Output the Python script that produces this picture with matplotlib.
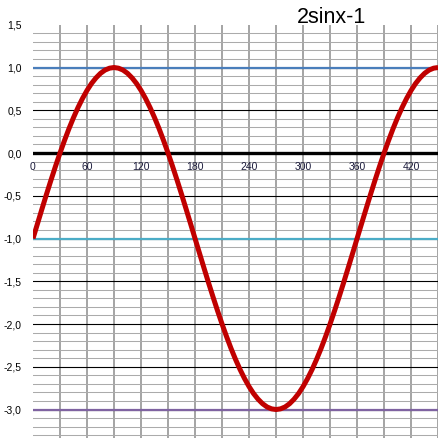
import matplotlib
matplotlib.use("Agg")
import matplotlib.pyplot as plt

# значения (шаг 5 градусов, 0..450)
x_deg = list(range(0, 451, 5))
y_val = [-1.0, -0.826, -0.653, -0.482, -0.316, -0.155, 0.0, 0.147, 0.286, 0.414,
         0.532, 0.638, 0.732, 0.813, 0.879, 0.932, 0.970, 0.992,
         1.0, 0.992, 0.970, 0.932, 0.879, 0.813, 0.732, 0.638, 0.532, 0.414,
         0.286, 0.147, 0.0, -0.155, -0.316, -0.482, -0.653, -0.826,
         -1.0, -1.174, -1.347, -1.518, -1.684, -1.845, -2.0, -2.147, -2.286, -2.414,
         -2.532, -2.638, -2.732, -2.813, -2.879, -2.932, -2.970, -2.992,
         -3.0, -2.992, -2.970, -2.932, -2.879, -2.813, -2.732, -2.638, -2.532, -2.414,
         -2.286, -2.147, -2.0, -1.845, -1.684, -1.518, -1.347, -1.174,
         -1.0, -0.826, -0.653, -0.482, -0.316, -0.155, 0.0, 0.147, 0.286, 0.414,
         0.532, 0.638, 0.732, 0.813, 0.879, 0.932, 0.970, 0.992, 1.0]

# горизонтальные уровни
levels = [1.0, -1.0, -3.0]
level_colors = ["#4a7ebb", "#4bacc6", "#7f63a1"]

x_labels = [0, 60, 120, 180, 240, 300, 360, 420]
y_ticks = [1.5, 1.0, 0.5, 0.0, -0.5, -1.0, -1.5, -2.0, -2.5, -3.0]
title = "2sinx-1"

plt.rcParams['font.family'] = ['Liberation Sans', 'DejaVu Sans']

fig = plt.figure(figsize=(4.39, 4.38), dpi=100)
ax = fig.add_axes([33 / 439, 0, 406 / 439, 413.25 / 438])
ax.set_xlim(0, 451)
ax.set_ylim(-3.333, 1.5)
for s in ax.spines.values():
    s.set_visible(False)

# сетка
ax.set_xticks(range(30, 451, 30))
ax.set_xticklabels([])
ax.set_yticks(y_ticks)
ax.set_yticklabels([f"{v:.1f}".replace(".", ",") for v in y_ticks], fontsize=7.5)
ax.set_yticks([v / 10 for v in range(-33, 15)], minor=True)
ax.tick_params(which='both', length=0)
ax.tick_params(axis='y', pad=8)
ax.grid(axis='y', which='minor', color='#ababab', lw=0.75, zorder=0)
ax.grid(axis='x', which='major', color='#8c8c8c', lw=1.1, zorder=1)
ax.set_axisbelow(True)
for v in y_ticks[1:]:
    ax.axhline(v, color='black', lw=0.8, zorder=1)

ax.axhline(0, color='black', lw=2.4, zorder=2)
for lv, c in zip(levels, level_colors):
    ax.axhline(lv, color=c, lw=1.6, zorder=3)

ax.plot(x_deg, y_val, color='#c00000', lw=3.6, solid_joinstyle='round',
        solid_capstyle='butt', zorder=4)

for xl in x_labels:
    ax.text(xl, -0.164, str(xl), ha='center', va='center', fontsize=7.5,
            color='#1c1c3c', zorder=5)

fig.text(296.7 / 439, 1 - 22.7 / 438, title, fontsize=15.5, ha='left', va='baseline')

fig.savefig("out.png", dpi=100)
